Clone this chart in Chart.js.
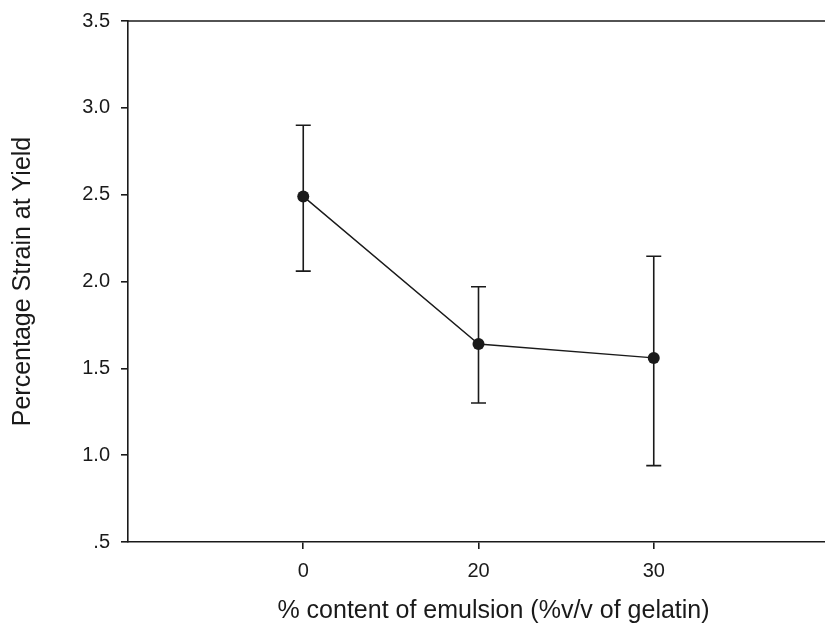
<!DOCTYPE html>
<html>
<head>
<meta charset="utf-8">
<script src="https://cdn.jsdelivr.net/npm/chart.js@4/dist/chart.umd.min.js"></script>
<style>
  html, body { margin: 0; padding: 0; background: #fff; overflow: hidden; }
  canvas { display: block; }
</style>
</head>
<body>
<canvas id="chart" width="835" height="629"></canvas>
<script>
// emulsion content categories (%v/v of gelatin)
const categories = ['0', '20', '30'];
// mean percentage strain at yield
const strain = [2.49, 1.64, 1.56];
// error bar ends
const errUpper = [2.90, 1.97, 2.145];
const errLower = [2.06, 1.30, 0.94];
// y tick labels
const yTickValues = [0.5, 1.0, 1.5, 2.0, 2.5, 3.0, 3.5];
const yTickLabels = ['.5', '1.0', '1.5', '2.0', '2.5', '3.0', '3.5'];
const xTitle = '% content of emulsion (%v/v of gelatin)';
const yTitle = 'Percentage Strain at Yield';

const ink = '#1a1a1a';
const fontFamily = 'Liberation Sans, Arial, sans-serif';

const errorBars = {
  id: 'errorBars',
  beforeDatasetsDraw(chart) {
    const { ctx, scales: { x, y } } = chart;
    ctx.save();
    ctx.strokeStyle = ink;
    ctx.lineWidth = 1.6;
    categories.forEach((c, i) => {
      const px = x.getPixelForValue(i + 1);
      const top = y.getPixelForValue(errUpper[i]);
      const bot = y.getPixelForValue(errLower[i]);
      ctx.beginPath();
      ctx.moveTo(px, top); ctx.lineTo(px, bot);
      ctx.moveTo(px - 7.5, top); ctx.lineTo(px + 7.5, top);
      ctx.moveTo(px - 7.5, bot); ctx.lineTo(px + 7.5, bot);
      ctx.stroke();
    });
    ctx.restore();
  },
  afterDraw(chart) {
    const { ctx, chartArea } = chart;
    ctx.save();
    // top frame line
    ctx.strokeStyle = ink;
    ctx.lineWidth = 1.6;
    ctx.beginPath();
    ctx.moveTo(chartArea.left, chartArea.top);
    ctx.lineTo(chartArea.right, chartArea.top);
    ctx.stroke();
    // x axis title, sits a little right of the area centre in the original
    ctx.fillStyle = ink;
    ctx.font = '25px ' + fontFamily;
    ctx.textAlign = 'center';
    ctx.textBaseline = 'middle';
    ctx.fillText(xTitle, (chartArea.left + chartArea.right) / 2 + 15, chart.height - 18);
    ctx.restore();
  }
};

new Chart(document.getElementById('chart'), {
  type: 'line',
  data: {
    datasets: [{
      data: strain.map((v, i) => ({ x: i + 1, y: v })),
      borderColor: ink,
      borderWidth: 1.4,
      backgroundColor: ink,
      pointRadius: 6,
      pointBackgroundColor: ink,
      pointBorderWidth: 0,
      tension: 0
    }]
  },
  options: {
    responsive: false,
    animation: false,
    layout: { padding: { top: 21, right: 0, left: 0, bottom: 0 } },
    plugins: { legend: { display: false }, tooltip: { enabled: false } },
    scales: {
      x: {
        type: 'linear',
        min: 0,
        max: 4,
        afterBuildTicks: s => { s.ticks = categories.map((c, i) => ({ value: i + 1 })); },
        afterFit: s => { s.height = 87; },
        grid: { drawOnChartArea: false, drawTicks: true, tickLength: 7, color: ink, lineWidth: 1.6 },
        border: { display: true, color: ink, width: 1.6 },
        ticks: {
          callback: v => categories[v - 1] ?? '',
          color: ink,
          padding: 10,
          maxRotation: 0,
          font: { family: fontFamily, size: 20 }
        },
        title: { display: false }
      },
      y: {
        min: 0.5,
        max: 3.5,
        afterBuildTicks: s => { s.ticks = yTickValues.map(v => ({ value: v })); },
        afterFit: s => { s.width = 128; },
        grid: { drawOnChartArea: false, drawTicks: true, tickLength: 7, color: ink, lineWidth: 1.6 },
        border: { display: true, color: ink, width: 1.6 },
        ticks: {
          callback: v => yTickLabels[yTickValues.indexOf(v)] ?? '',
          color: ink,
          padding: 11,
          font: { family: fontFamily, size: 20, lineHeight: 1 }
        },
        title: {
          display: true,
          text: yTitle,
          color: ink,
          padding: { top: 8, bottom: 4 },
          font: { family: fontFamily, size: 25 }
        }
      }
    }
  },
  plugins: [errorBars]
});
</script>
</body>
</html>
